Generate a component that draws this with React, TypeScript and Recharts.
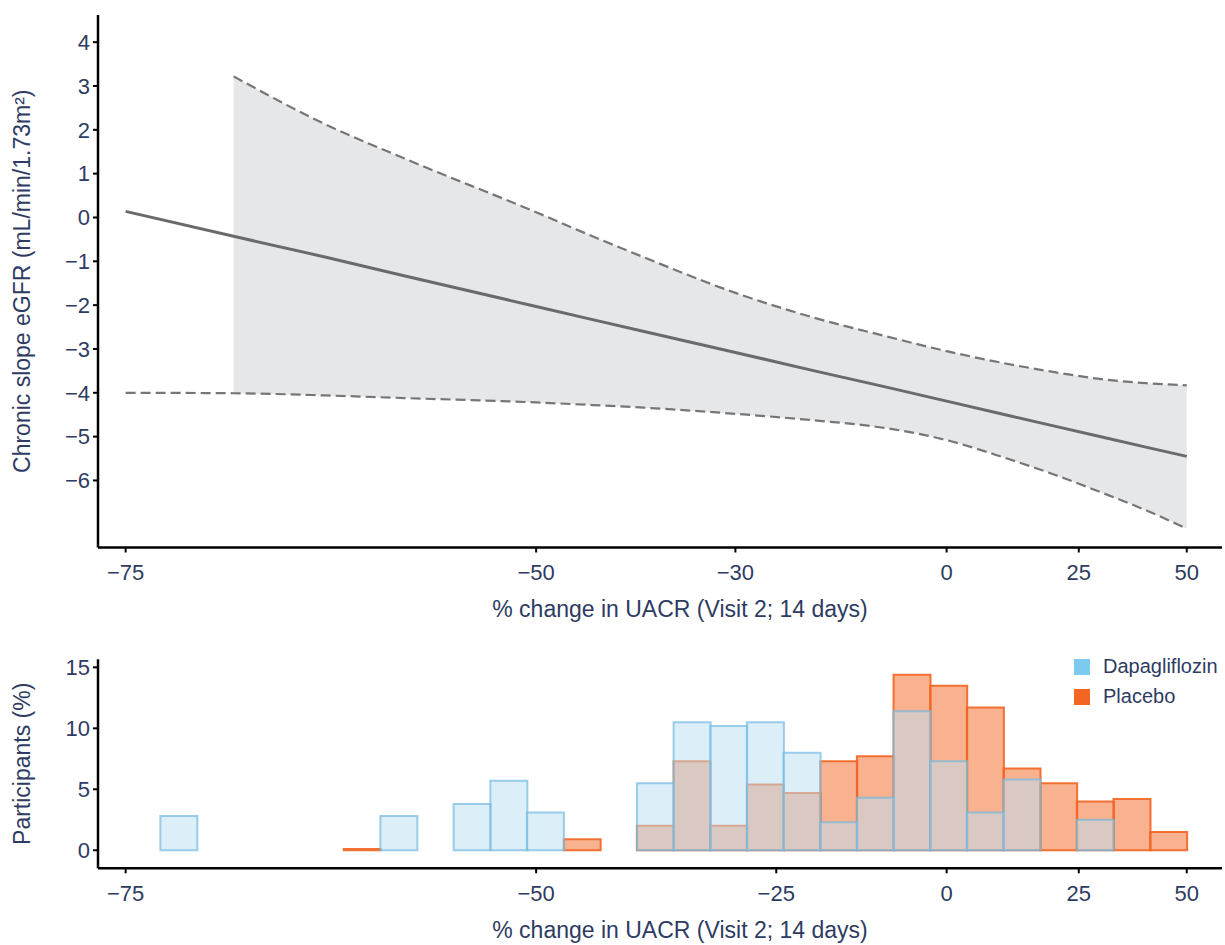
import React from 'react';
import {
  ComposedChart,
  Area,
  Line,
  Bar,
  XAxis,
  YAxis,
  Legend,
} from 'recharts';

const FONT = '"Liberation Sans", Arial, Helvetica, sans-serif';
const INK = '#2e3b62';
const X_TITLE = '% change in UACR (Visit 2; 14 days)';

// top panel: fitted chronic eGFR slope with 95% band, by % change in UACR
const curvePct = [-75, -70, -65, -60, -50, -45, -40, -30, -20, -10, 0, 10, 20, 30, 40, 50];
const fitSlope = [0.14, -0.43, -0.9, -1.33, -2.03, -2.33, -2.6, -3.08, -3.5, -3.86, -4.19, -4.49, -4.76, -5.01, -5.24, -5.45];
const ciUpper = [null, 3.22, 2.13, 1.35, 0.12, -0.43, -0.91, -1.72, -2.29, -2.7, -3.05, -3.32, -3.53, -3.69, -3.78, -3.83];
const ciLower = [-4.0, -4.01, -4.06, -4.12, -4.22, -4.28, -4.34, -4.48, -4.63, -4.8, -5.08, -5.47, -5.87, -6.28, -6.68, -7.1];
const topXTicks = [-75, -50, -30, 0, 25, 50];
const topYTicks = [-6, -5, -4, -3, -2, -1, 0, 1, 2, 3, 4];

// bottom panel: histogram of participants (%) per UACR bin (bin centres in %)
const binPct = [
  -72.66, -70.91, -69.06, -67.08, -64.98, -62.74, -60.36, -57.83, -55.14, -52.27,
  -49.23, -45.98, -42.53, -38.87, -34.96, -30.81, -26.39, -21.69, -16.69, -11.37,
  -5.71, 0.31, 6.72, 13.53, 20.78, 28.49, 36.7, 45.43,
];
const dapaShare = [
  2.8, null, null, null, null, null, 2.8, null, 3.8, 5.7,
  3.1, null, null, 5.5, 10.5, 10.2, 10.5, 8.0, 2.3, 4.3,
  11.4, 7.3, 3.1, 5.8, null, 2.5, null, null,
];
const placeboShare = [
  null, null, null, null, null, 0.1, null, null, null, null,
  null, 0.9, null, 2.0, 7.3, 2.0, 5.4, 4.7, 7.3, 7.7,
  14.4, 13.5, 11.7, 6.7, 5.5, 4.0, 4.2, 1.5,
];
const bottomXTicks = [-75, -50, -25, 0, 25, 50];
const bottomYTicks = [0, 5, 10, 15];

const legendItems = [
  { name: 'Dapagliflozin', color: '#7ccbef' },
  { name: 'Placebo', color: '#f26522' },
];

const curveData = curvePct.map((pct, i) => ({
  pct,
  fit: fitSlope[i],
  upper: ciUpper[i],
  lower: ciLower[i],
  band: ciUpper[i] == null ? null : [ciLower[i], ciUpper[i]],
}));

const histData = binPct.map((pct, i) => ({
  pct,
  dapa: dapaShare[i],
  placebo: placeboShare[i],
}));

// x axis is log(UACR ratio), labelled as % change
const toRatio = (pct: number) => 1 + pct / 100;
const ratioOf = (d: any) => toRatio(d.pct);
const X_DOMAIN: [number, number] = [0.2386, 1.592];

const signed = (n: number) => (n < 0 ? `\u2212${Math.abs(n)}` : `${n}`);
const fmtPct = (v: number) => signed(Math.round((v - 1) * 100));

const tickStyle = { fill: INK, fontSize: 22, fontFamily: FONT };
const axisLine = { stroke: '#000', strokeWidth: 2.5 };
const tickLine = { stroke: '#000', strokeWidth: 2 };

const xTitle = (props: any) => {
  const vb = props?.viewBox;
  if (!vb) return null;
  return (
    <text
      x={vb.x + vb.width / 2 + 20}
      y={vb.y + 69.5}
      textAnchor="middle"
      fontFamily={FONT}
      fontSize={23}
      fill={INK}
    >
      {X_TITLE}
    </text>
  );
};

const yTitle = (title: string) => (props: any) => {
  const vb = props?.viewBox;
  if (!vb) return null;
  const cy = vb.y + vb.height / 2;
  return (
    <text
      x={30}
      y={cy}
      transform={`rotate(-90 30 ${cy})`}
      textAnchor="middle"
      fontFamily={FONT}
      fontSize={23}
      fill={INK}
    >
      {title}
    </text>
  );
};

const renderLegend = () => (
  <div style={{ fontFamily: FONT, fontSize: 20, color: INK }}>
    {legendItems.map((item) => (
      <div key={item.name} style={{ display: 'flex', alignItems: 'center', height: 30 }}>
        <span style={{ width: 16, height: 16, background: item.color, marginRight: 13, display: 'inline-block' }} />
        {item.name}
      </div>
    ))}
  </div>
);

export default function App() {
  return (
    <div style={{ position: 'absolute', left: 0, top: 0, width: 1225, height: 945, background: '#fff' }}>
      <ComposedChart
        width={1225}
        height={640}
        data={curveData}
        margin={{ top: 15, right: 3, bottom: 0, left: 0 }}
      >
        <XAxis
          dataKey={ratioOf}
          type="number"
          scale="log"
          domain={X_DOMAIN}
          allowDataOverflow
          ticks={topXTicks.map(toRatio)}
          tickFormatter={fmtPct}
          interval={0}
          height={92.5}
          tickSize={5}
          tickMargin={12}
          axisLine={axisLine}
          tickLine={tickLine}
          tick={tickStyle}
          label={xTitle}
        />
        <YAxis
          type="number"
          domain={[-7.53, 4.62]}
          allowDataOverflow
          ticks={topYTicks}
          tickFormatter={signed}
          interval={0}
          width={98}
          tickSize={5}
          tickMargin={3}
          axisLine={axisLine}
          tickLine={tickLine}
          tick={tickStyle}
          label={yTitle('Chronic slope eGFR (mL/min/1.73m\u00b2)')}
        />
        <Area
          dataKey="band"
          type="monotone"
          fill="#e6e7e9"
          fillOpacity={1}
          stroke="none"
          activeDot={false}
          isAnimationActive={false}
        />
        <Line
          dataKey="upper"
          type="monotone"
          stroke="#767676"
          strokeWidth={2.2}
          strokeDasharray="10 5"
          dot={false}
          activeDot={false}
          isAnimationActive={false}
        />
        <Line
          dataKey="lower"
          type="monotone"
          stroke="#767676"
          strokeWidth={2.2}
          strokeDasharray="10 5"
          dot={false}
          activeDot={false}
          isAnimationActive={false}
        />
        <Line
          dataKey="fit"
          type="linear"
          stroke="#6a6a6a"
          strokeWidth={3}
          dot={false}
          activeDot={false}
          isAnimationActive={false}
        />
      </ComposedChart>

      <ComposedChart
        width={1225}
        height={305}
        data={histData}
        barCategoryGap={0}
        barGap={0}
        margin={{ top: 19.3, right: 3, bottom: 0, left: 0 }}
      >
        <XAxis
          xAxisId="placebo"
          dataKey={ratioOf}
          type="number"
          scale="log"
          domain={X_DOMAIN}
          allowDataOverflow
          ticks={bottomXTicks.map(toRatio)}
          tickFormatter={fmtPct}
          interval={0}
          height={76.7}
          tickSize={5}
          tickMargin={12}
          axisLine={axisLine}
          tickLine={tickLine}
          tick={tickStyle}
          label={xTitle}
        />
        {/* twin axis so the two series overlap instead of sitting side by side */}
        <XAxis
          xAxisId="dapa"
          orientation="top"
          dataKey={ratioOf}
          type="number"
          scale="log"
          domain={X_DOMAIN}
          allowDataOverflow
          height={0}
          hide
        />
        <YAxis
          type="number"
          domain={[-1.48, 15.66]}
          allowDataOverflow
          ticks={bottomYTicks}
          interval={0}
          width={98}
          tickSize={5}
          tickMargin={3}
          axisLine={axisLine}
          tickLine={tickLine}
          tick={tickStyle}
          label={yTitle('Participants (%)')}
        />
        <Legend
          layout="vertical"
          align="center"
          verticalAlign="middle"
          content={renderLegend}
          wrapperStyle={{ left: 1074, top: 11.5, width: 151 }}
        />
        <Bar
          xAxisId="placebo"
          dataKey="placebo"
          fill="#f26522"
          fillOpacity={0.5}
          stroke="#f26522"
          strokeOpacity={0.9}
          strokeWidth={2}
          isAnimationActive={false}
        />
        <Bar
          xAxisId="dapa"
          dataKey="dapa"
          fill="#b9e0f3"
          fillOpacity={0.5}
          stroke="#73b9df"
          strokeOpacity={0.7}
          strokeWidth={2}
          isAnimationActive={false}
        />
      </ComposedChart>
    </div>
  );
}
